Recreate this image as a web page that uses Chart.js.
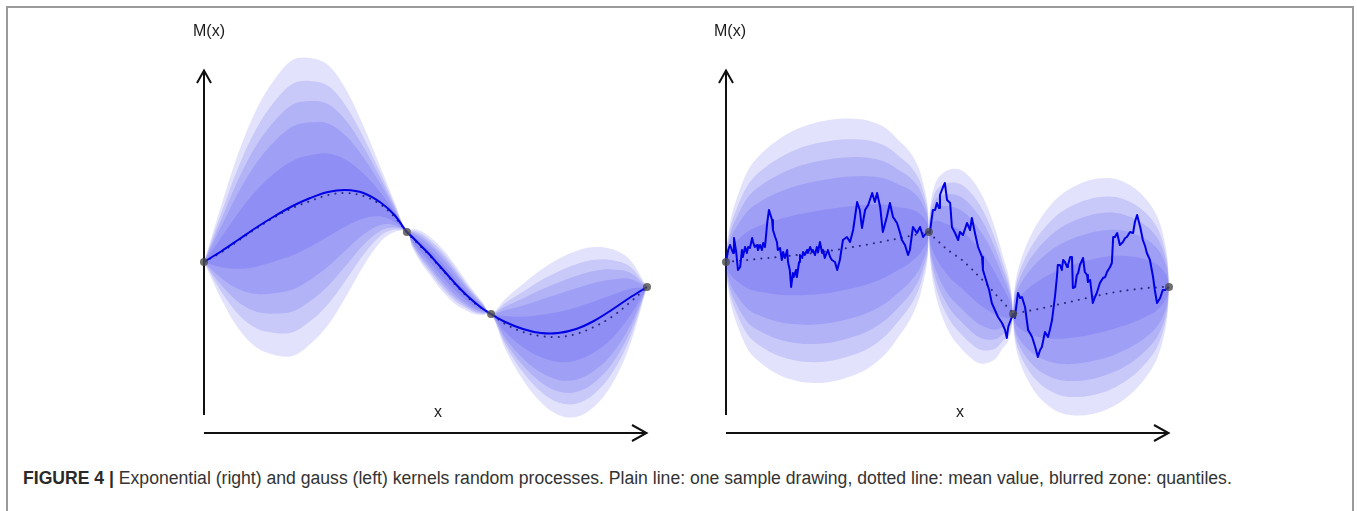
<!DOCTYPE html>
<html><head><meta charset="utf-8">
<script src="https://cdn.jsdelivr.net/npm/chart.js@4.4.1/dist/chart.umd.min.js"></script>
<style>
html,body{margin:0;padding:0;background:#fff;width:1357px;height:511px;overflow:hidden;position:relative;}
#frame{position:absolute;left:6px;top:6px;width:1348px;height:530px;border:2px solid #9a9a9a;border-bottom:none;box-sizing:border-box;}
canvas{position:absolute;top:0;}
.lbl{position:absolute;font-family:"Liberation Sans",Arial,sans-serif;font-size:16px;line-height:16px;color:#1a1a1a;white-space:nowrap;}
#caption{position:absolute;left:23px;top:470px;font-family:"Liberation Sans",Arial,sans-serif;font-size:17.6px;line-height:17.6px;color:#333;white-space:nowrap;}
#caption b{color:#2a2a2a;}
</style></head>
<body>
<div id="frame"></div>
<canvas id="leftChart" width="520" height="460" style="left:150px;width:520px;height:460px"></canvas>
<canvas id="rightChart" width="520" height="460" style="left:672px;width:520px;height:460px"></canvas>
<div class="lbl" style="left:193px;top:23px">M(x)</div>
<div class="lbl" style="left:434px;top:404px">x</div>
<div class="lbl" style="left:714px;top:23px">M(x)</div>
<div class="lbl" style="left:956px;top:404px">x</div>
<div id="caption"><b>FIGURE 4 |</b> Exponential (right) and gauss (left) kernels random processes. Plain line: one sample drawing, dotted line: mean value, blurred zone: quantiles.</div>
<script>
// ---------- data ----------
const OBS_X = [0, 4.58, 6.48, 10];
const OBS_Y = [0, 3.0, -5.2, -2.5];
const BAND_RATIOS = [1, 0.84, 0.70, 0.55, 0.32];

// Gauss kernel (left panel)
const LEFT_X = [0,0.4,0.8,1.2,1.6,2.0,2.4,2.8,3.2,3.6,4.0,4.3,4.58,
                4.7,4.9,5.1,5.3,5.5,5.7,5.9,6.1,6.3,6.48,
                6.8,7.2,7.6,8.0,8.4,8.8,9.2,9.6,10];
const LEFT_SAMPLE = [0,1.1,2.3,3.5,4.6,5.6,6.4,7.0,7.2,6.9,5.9,4.7,3.0,
                     2.5,1.6,0.7,-0.3,-1.3,-2.3,-3.2,-4.0,-4.7,-5.2,
                     -6.0,-6.7,-7.1,-7.1,-6.7,-5.9,-4.8,-3.6,-2.5];
const LEFT_MEAN = [0,1.0,2.2,3.4,4.5,5.4,6.1,6.7,6.9,6.6,5.7,4.5,3.0,
                   2.4,1.5,0.6,-0.4,-1.4,-2.4,-3.3,-4.1,-4.7,-5.2,
                   -6.2,-7.0,-7.4,-7.5,-7.2,-6.5,-5.5,-4.1,-2.5];
const LEFT_SPREAD = [0,4.8,9.0,12.0,13.8,14.8,14.3,13.0,10.4,7.0,3.6,1.5,0,
                     0.9,1.6,1.9,2.1,2.1,1.9,1.5,1.1,0.6,0,
                     2.5,4.8,6.6,7.8,8.3,8.0,6.8,4.4,0];

// Exponential kernel (right panel)
const RIGHT_X = [0,0.02,0.05,0.11,0.23,0.5,0.8,1.2,1.6,2.0,2.4,2.8,3.2,3.6,3.9,4.15,4.35,4.45,4.52,4.56,4.58,
                 4.60,4.63,4.67,4.76,4.9,5.1,5.3,5.5,5.7,5.9,6.1,6.25,6.35,6.42,6.46,6.48,
                 6.50,6.53,6.59,6.75,7.0,7.3,7.6,8.0,8.4,8.8,9.2,9.5,9.7,9.82,9.91,9.96,9.98,10];
const RIGHT_MEAN = [0,0,0,0.05,0.1,0.2,0.35,0.5,0.7,0.9,1.15,1.45,1.75,2.1,2.35,2.6,2.8,2.9,2.95,3.0,3.0,
                    2.9,2.75,2.55,2.2,1.6,0.9,0.3,-0.5,-1.4,-2.3,-3.3,-4.0,-4.5,-4.8,-5.05,-5.2,
                    -5.18,-5.15,-5.1,-4.95,-4.75,-4.45,-4.15,-3.75,-3.35,-3.0,-2.75,-2.6,-2.55,-2.5,-2.5,-2.5,-2.5,-2.5];
const RIGHT_SPREAD = [0,1.9,2.7,4.3,6.1,9.0,10.5,11.8,12.6,13.0,13.1,12.9,12.4,11.3,9.8,8.4,6.6,5.0,3.6,2.2,0,
                      2.2,3.5,4.5,6.0,7.3,8.4,8.9,9.0,8.7,7.8,6.3,4.6,3.6,2.4,1.2,0,
                      2.0,3.0,4.3,6.3,8.4,10.0,11.0,11.6,11.7,11.3,10.2,8.8,7.4,6.0,4.4,3.0,2.0,0];
const RIGHT_SAMPLE_X = [
 0,0.05,0.09,0.16,0.18,0.23,0.27,0.32,0.36,0.38,
 0.43,0.47,0.50,0.54,0.59,0.61,0.65,0.70,0.72,0.77,
 0.81,0.84,0.88,0.93,0.97,1.04,1.06,1.11,1.15,1.17,
 1.22,1.26,1.29,1.33,1.38,1.40,1.44,1.47,1.51,1.53,
 1.58,1.60,1.65,1.67,1.72,1.74,1.78,1.83,1.85,1.90,
 1.94,1.96,2.01,2.05,2.08,2.12,2.17,2.19,2.23,2.28,
 2.30,2.35,2.39,2.46,2.51,2.57,2.64,2.73,2.80,2.87,
 2.96,3.02,3.07,3.14,3.21,3.30,3.36,3.41,3.48,3.54,
 3.63,3.70,3.77,3.86,3.93,3.97,4.04,4.11,4.15,4.22,
 4.31,4.38,4.45,4.54,4.58,
 4.60,4.67,4.72,4.76,4.81,4.83,4.90,4.94,4.99,5.06,
 5.10,5.17,5.24,5.28,5.35,5.44,5.51,5.55,5.62,5.69,
 5.78,5.80,5.89,5.94,6.00,6.07,6.14,6.23,6.30,6.34,
 6.37,6.41,6.48,
 6.52,6.59,6.64,6.68,6.75,6.82,6.86,6.91,6.98,7.04,
 7.09,7.13,7.20,7.27,7.31,7.36,7.43,7.47,7.49,7.54,
 7.58,7.61,7.65,7.70,7.72,7.77,7.81,7.83,7.88,7.92,
 7.95,7.99,8.06,8.10,8.15,8.17,8.22,8.28,8.33,8.37,
 8.44,8.51,8.56,8.60,8.67,8.71,8.74,8.78,8.83,8.89,
 8.96,9.01,9.05,9.12,9.19,9.23,9.28,9.35,9.41,9.46,
 9.50,9.57,9.64,9.68,9.73,9.80,9.86,9.91,10];
const RIGHT_SAMPLE_Y = [
 0,1.2,1.7,0.9,2.4,1.0,-0.8,-0.5,1.2,0.5,
 1.5,0.9,1.5,1.4,2.4,2.0,1.5,1.7,1.2,1.7,
 1.2,1.9,1.5,3.9,5.2,4.2,3.2,2.5,2.0,1.2,
 1.4,0.2,1.0,0.4,1.2,0.0,-0.8,-2.5,-1.1,-1.5,
 -0.8,-1.5,0.0,0.7,0.4,1.0,0.7,1.2,0.9,1.5,
 1.0,1.2,0.7,1.5,1.0,2.0,0.9,1.2,0.4,1.0,
 1.2,0.5,0.2,0.0,-0.8,0.2,2.2,2.5,2.0,3.2,
 6.0,5.2,3.4,5.2,5.7,6.9,6.0,6.9,5.5,3.0,
 4.5,5.9,4.5,3.9,2.9,2.2,1.7,0.7,1.2,3.5,
 2.9,3.5,2.5,3.0,3.0,
 2.9,5.2,5.2,5.9,5.4,6.7,7.5,7.9,6.2,5.9,
 3.5,2.9,2.2,3.0,2.7,3.9,3.2,4.4,2.9,1.5,
 0.5,-0.8,-2.1,-2.8,-4.1,-4.8,-5.5,-6.1,-6.8,-7.6,
 -6.5,-6.0,-5.2,
 -5.6,-3.1,-3.6,-3.5,-4.5,-6.8,-7.1,-7.5,-8.5,-9.5,
 -8.8,-8.5,-7.0,-7.5,-6.8,-5.8,-3.3,-1.5,-0.3,-0.3,
 -0.8,0.2,0.0,-0.5,-0.3,0.5,0.5,-2.6,-2.5,-1.3,
 -1.1,-0.3,0.4,-1.0,-1.3,-2.0,-1.8,-4.1,-3.5,-3.1,
 -2.1,-1.6,-1.5,-1.0,-0.5,-0.1,2.5,2.5,2.9,1.7,
 2.0,2.4,2.5,3.0,2.9,4.0,4.7,3.5,2.2,1.6,
 0.9,0.2,-1.5,-2.8,-4.1,-3.6,-2.8,-2.8,-2.5];

// axis extents (data units)
const X_RANGE = [0, 10];
const Y_RANGE = [-18, 22];
const Y_AXIS_SPAN = [-15.3, 19.2];
const X_AXIS_LEVEL = -17.1;

// ---------- build ----------
const BAND_COLOR = 'rgba(25,25,235,0.125)';
function pts(xs, ys){ return xs.map((x,i)=>({x:x, y:ys[i]})); }

function bandDatasets(xs, mean, spread){
  const out = [];
  BAND_RATIOS.forEach((r,k)=>{
    out.push({data: xs.map((x,i)=>({x:x, y:mean[i]+r*spread[i]})), fill:'+1',
      backgroundColor:BAND_COLOR, borderWidth:0, pointRadius:0, tension:0.35, order:20+k, clip:false});
    out.push({data: xs.map((x,i)=>({x:x, y:mean[i]-r*spread[i]})), fill:false,
      backgroundColor:BAND_COLOR, borderWidth:0, pointRadius:0, tension:0.35, order:20+k, clip:false});
  });
  return out;
}

const arrowAxes = {
  id:'arrowAxes',
  beforeDatasetsDraw(chart){
    const {ctx} = chart; const xs = chart.scales.x, ys = chart.scales.y;
    const ax = Math.round(xs.getPixelForValue(X_RANGE[0]));
    const yb = ys.getPixelForValue(Y_AXIS_SPAN[0]), yt = ys.getPixelForValue(Y_AXIS_SPAN[1]);
    const yx = Math.round(ys.getPixelForValue(X_AXIS_LEVEL));
    const xe = xs.getPixelForValue(X_RANGE[1]);
    ctx.save();
    ctx.strokeStyle = '#111'; ctx.lineWidth = 2; ctx.lineJoin='miter';
    ctx.beginPath(); ctx.moveTo(ax, yb); ctx.lineTo(ax, yt); ctx.stroke();
    ctx.beginPath(); ctx.moveTo(ax-7, yt+13); ctx.lineTo(ax, yt+0.5); ctx.lineTo(ax+7, yt+13); ctx.stroke();
    ctx.beginPath(); ctx.moveTo(ax, yx); ctx.lineTo(xe, yx); ctx.stroke();
    ctx.beginPath(); ctx.moveTo(xe-15, yx-8); ctx.lineTo(xe-0.5, yx); ctx.lineTo(xe-15, yx+8); ctx.stroke();
    ctx.restore();
  }
};

function makeChart(id, bands, sampleData, sampleTension, meanData){
  const datasets = [
    {data: pts(OBS_X, OBS_Y), showLine:false, pointRadius:4, pointBackgroundColor:'rgba(75,75,75,0.8)',
     pointBorderWidth:0, order:0, clip:false},
    {data: sampleData, borderColor:'#0000e6', borderWidth:2, pointRadius:0, tension:sampleTension,
     borderJoinStyle:'round', fill:false, order:1, clip:false},
    {data: meanData, borderColor:'rgba(35,35,115,0.95)', borderWidth:2, borderDash:[0.1,7],
     borderCapStyle:'round', pointRadius:0, tension:0.35, fill:false, order:2, clip:false},
    ...bands
  ];
  return new Chart(document.getElementById(id), {
    type:'line',
    data:{datasets},
    options:{
      responsive:false, animation:false, parsing:true,
      layout:{padding:{left:54, right:23, top:42, bottom:18}},
      plugins:{legend:{display:false}, tooltip:{enabled:false}, title:{display:false}},
      scales:{
        x:{type:'linear', min:X_RANGE[0], max:X_RANGE[1], display:false},
        y:{type:'linear', min:Y_RANGE[0], max:Y_RANGE[1], display:false}
      },
      elements:{line:{capBezierPoints:false}}
    },
    plugins:[arrowAxes]
  });
}

makeChart('leftChart', bandDatasets(LEFT_X, LEFT_MEAN, LEFT_SPREAD), pts(LEFT_X, LEFT_SAMPLE), 0.35, pts(LEFT_X, LEFT_MEAN));
makeChart('rightChart', bandDatasets(RIGHT_X, RIGHT_MEAN, RIGHT_SPREAD), pts(RIGHT_SAMPLE_X, RIGHT_SAMPLE_Y), 0, pts(RIGHT_X, RIGHT_MEAN));
</script>
</body></html>
